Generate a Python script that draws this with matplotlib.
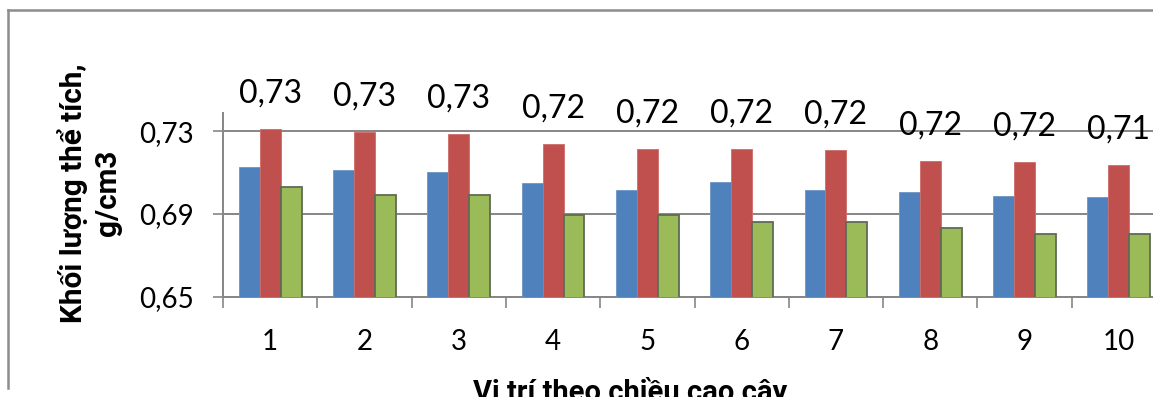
import matplotlib
matplotlib.use("Agg")
import matplotlib.pyplot as plt
from matplotlib.ticker import FuncFormatter, FixedLocator
from matplotlib.lines import Line2D
import numpy as np

plt.rcParams['font.family'] = ['Lato', 'DejaVu Sans']
TITLE_FONT = ['Roboto', 'DejaVu Sans']

# Data
positions = ["1", "2", "3", "4", "5", "6", "7", "8", "9", "10"]
series_blue = [0.7125, 0.7112, 0.7104, 0.7049, 0.7016, 0.7054, 0.7016, 0.7005, 0.6987, 0.6980]
series_red = [0.7308, 0.7297, 0.7287, 0.7237, 0.7213, 0.7213, 0.7208, 0.7157, 0.7152, 0.7138]
series_green = [0.7029, 0.6992, 0.6992, 0.6895, 0.6895, 0.6861, 0.6861, 0.6831, 0.6802, 0.6802]
y_ticks = [0.65, 0.69, 0.73]
y_label_lines = ["Khối lượng thể tích,", "g/cm3"]
x_label = "Vị trí theo chiều cao cây"

W, H = 1153, 397
fig = plt.figure(figsize=(W / 100, H / 100), dpi=100)
renderer = fig.canvas.get_renderer()


def fitted_size(text, target_px, base=17.0):
    """Font size at which the bold title text spans target_px pixels."""
    t = fig.text(0, 0, text, fontsize=base, fontweight="bold", family=TITLE_FONT)
    w = t.get_window_extent(renderer).width
    t.remove()
    return base * target_px / w


# plot area extends slightly past the right edge of the canvas
left_px, right_px, top_px, bottom_px = 223, 1166, 113, 297
ax = fig.add_axes([left_px / W, 1 - bottom_px / H,
                   (right_px - left_px) / W, (bottom_px - top_px) / H])

grid_col = "#868686"
x = np.arange(1, len(positions) + 1)
bw = 1 / 4.5  # three bars per group with a 150% gap

ax.bar(x - bw, series_blue, bw, color="#4F81BD", edgecolor="#6f95c6",
       linewidth=0.6, zorder=3)
ax.bar(x, series_red, bw, color="#C0504D", edgecolor="#cc6d6a",
       linewidth=0.6, zorder=3)
ax.bar(x + bw, series_green, bw, color="#9BBB59", edgecolor="#5f6b55",
       linewidth=1.3, zorder=3)

ax.set_ylim(0.65, 0.7387)
ax.set_xlim(0.5, len(positions) + 0.5)

# value labels above the middle series
for xi, v in zip(x, series_red):
    ax.annotate(f"{v:.2f}".replace(".", ","), (xi, v), xytext=(0, 25.5),
                textcoords="offset points", ha="center", va="center",
                fontsize=23, color="black", zorder=5, annotation_clip=False)

ax.set_yticks(y_ticks)
ax.yaxis.set_major_formatter(FuncFormatter(lambda v, p: f"{v:.2f}".replace(".", ",")))
ax.tick_params(axis="y", length=7.2, width=1.2, color=grid_col, pad=14,
               labelsize=20)
ax.grid(axis="y", color=grid_col, linewidth=1.4, zorder=1)

ax.set_xticks(x)
ax.set_xticklabels(positions)
ax.tick_params(axis="x", which="major", length=0, pad=23, labelsize=20)
ax.xaxis.set_minor_locator(FixedLocator(np.arange(0.5, len(positions) + 1, 1.0)))
ax.tick_params(axis="x", which="minor", length=8, width=1.2, color=grid_col)

for s in ["top", "right"]:
    ax.spines[s].set_visible(False)
for s in ["left", "bottom"]:
    ax.spines[s].set_color(grid_col)
    ax.spines[s].set_linewidth(1.4)
ax.set_axisbelow(True)

# axis titles
ys = fitted_size(y_label_lines[0], 260)
fig.text(72 / W, 1 - 193 / H, y_label_lines[0], rotation=90, fontsize=ys,
         fontweight="bold", family=TITLE_FONT, ha="center", va="center")
fig.text(108 / W, 1 - 193 / H, y_label_lines[1], rotation=90, fontsize=ys,
         fontweight="bold", family=TITLE_FONT, ha="center", va="center")

xs = fitted_size(x_label, 314)
fig.text(630 / W, 1 - 377 / H, x_label, fontsize=xs, fontweight="bold",
         family=TITLE_FONT, ha="center", va="top")

# chart frame
fig.add_artist(Line2D([8 / W, 8 / W], [1 - 388 / H, 1 - 10 / H],
                      transform=fig.transFigure, color="#8c8c8c", linewidth=1.8))
fig.add_artist(Line2D([8 / W, 1.0], [1 - 10 / H, 1 - 10 / H],
                      transform=fig.transFigure, color="#8c8c8c", linewidth=1.8))

fig.savefig("out.png", dpi=100)
